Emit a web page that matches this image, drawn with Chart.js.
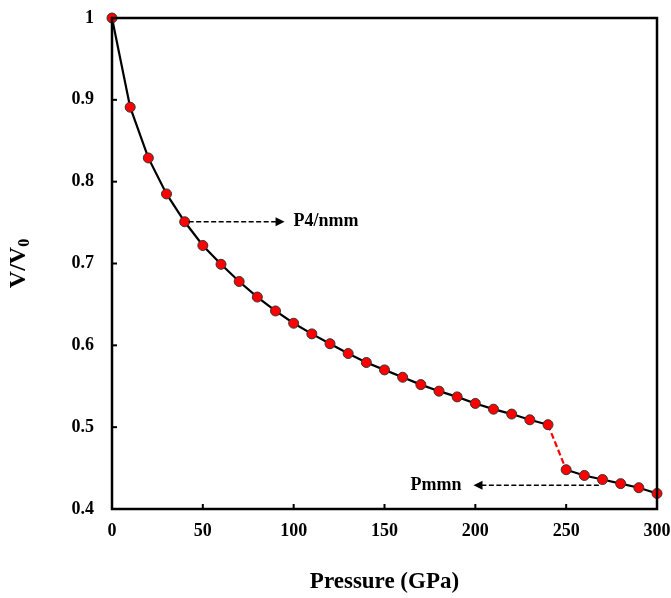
<!DOCTYPE html>
<html>
<head>
<meta charset="utf-8">
<script src="https://cdn.jsdelivr.net/npm/chart.js@4/dist/chart.umd.min.js"></script>
<style>
html,body{margin:0;padding:0;background:#fff;}
#wrap{width:671px;height:598px;position:relative;}
</style>
</head>
<body>
<div id="wrap"><canvas id="c" width="671" height="598"></canvas></div>
<script>
const pressure = [0,10,20,30,40,50,60,70,80,90,100,110,120,130,140,150,160,170,180,190,200,210,220,230,240,250,260,270,280,290,300];
const volumeRatio = [1.000,0.891,0.829,0.785,0.751,0.722,0.699,0.678,0.659,0.642,0.627,0.614,0.602,0.590,0.579,0.570,0.561,0.552,0.544,0.537,0.529,0.522,0.516,0.509,0.503,0.448,0.441,0.436,0.431,0.426,0.419];
const xTickLabels = ['0','50','100','150','200','250','300'];
const yTickLabels = ['0.4','0.5','0.6','0.7','0.8','0.9','1'];
const transitionStart = 240;
const phaseLabels = ['P4/nmm','Pmmn'];
const xTitle = 'Pressure (GPa)';

const FONT = '"Liberation Serif","Times New Roman",serif';

const framePlugin = {
  id: 'frame',
  afterDraw(chart) {
    const {ctx, chartArea: a, scales: {x, y}} = chart;
    ctx.save();
    ctx.strokeStyle = '#000';
    ctx.lineWidth = 2.5;
    ctx.strokeRect(a.left, a.top, a.right - a.left, a.bottom - a.top);
    ctx.lineWidth = 2;
    x.ticks.forEach(t => {
      const px = x.getPixelForValue(t.value);
      ctx.beginPath(); ctx.moveTo(px, a.bottom); ctx.lineTo(px, a.bottom - 5); ctx.stroke();
    });
    y.ticks.forEach(t => {
      const py = y.getPixelForValue(t.value);
      ctx.beginPath(); ctx.moveTo(a.left, py); ctx.lineTo(a.left + 5, py); ctx.stroke();
    });
    ctx.fillStyle = '#000';
    ctx.font = 'bold 23px ' + FONT;
    ctx.textAlign = 'center'; ctx.textBaseline = 'middle';
    ctx.fillText(xTitle, (a.left + a.right) / 2, 582);
    ctx.save();
    ctx.translate(19, (a.top + a.bottom) / 2);
    ctx.rotate(-Math.PI / 2);
    ctx.font = 'bold 24px ' + FONT;
    const main = 'V/V';
    const wMain = ctx.measureText(main).width;
    ctx.font = 'bold 16px ' + FONT;
    const wSub = ctx.measureText('0').width;
    const total = wMain + wSub;
    ctx.textAlign = 'left';
    ctx.font = 'bold 24px ' + FONT;
    ctx.fillText(main, -total / 2, 0);
    ctx.font = 'bold 16px ' + FONT;
    ctx.fillText('0', -total / 2 + wMain, 6);
    ctx.restore();
    // annotations
    ctx.setLineDash([5, 2.5]);
    ctx.lineWidth = 1.4;
    const ay1 = y.getPixelForValue(volumeRatio[4]);
    const ax1s = x.getPixelForValue(pressure[4]) + 4;
    const ax1e = x.getPixelForValue(95);
    ctx.beginPath(); ctx.moveTo(ax1s, ay1); ctx.lineTo(ax1e - 6, ay1); ctx.stroke();
    ctx.setLineDash([]);
    ctx.beginPath(); ctx.moveTo(ax1e, ay1); ctx.lineTo(ax1e - 9, ay1 - 4.5); ctx.lineTo(ax1e - 9, ay1 + 4.5); ctx.closePath(); ctx.fill();
    ctx.font = 'bold 18px ' + FONT;
    ctx.textAlign = 'left'; ctx.textBaseline = 'middle';
    ctx.fillText(phaseLabels[0], ax1e + 9, ay1);
    ctx.setLineDash([5, 2.5]);
    const ay2 = y.getPixelForValue(0.429);
    const ax2s = x.getPixelForValue(268);
    const ax2e = x.getPixelForValue(199);
    ctx.beginPath(); ctx.moveTo(ax2s, ay2); ctx.lineTo(ax2e + 6, ay2); ctx.stroke();
    ctx.setLineDash([]);
    ctx.beginPath(); ctx.moveTo(ax2e, ay2); ctx.lineTo(ax2e + 9, ay2 - 4.5); ctx.lineTo(ax2e + 9, ay2 + 4.5); ctx.closePath(); ctx.fill();
    ctx.textAlign = 'right';
    ctx.fillText(phaseLabels[1], ax2e - 12, ay2);
    ctx.restore();
  }
};

function noPad(s) { s.paddingTop = 0; s.paddingBottom = 0; s.paddingLeft = 0; s.paddingRight = 0; }

new Chart(document.getElementById('c'), {
  type: 'line',
  data: {
    datasets: [{
      data: pressure.map((p, i) => ({x: p, y: volumeRatio[i]})),
      borderColor: '#000',
      borderWidth: 2.2,
      pointBackgroundColor: '#ff0000',
      pointBorderColor: '#333',
      pointBorderWidth: 1,
      pointRadius: 5,
      tension: 0,
      clip: false,
      segment: {
        borderColor: ctx => ctx.p0.parsed.x === transitionStart ? '#ff0000' : '#000',
        borderDash: ctx => ctx.p0.parsed.x === transitionStart ? [6, 3] : undefined
      }
    }]
  },
  options: {
    responsive: false,
    animation: false,
    layout: {padding: {left: 0, right: 14, top: 18, bottom: 0}},
    plugins: {legend: {display: false}, tooltip: {enabled: false}},
    scales: {
      x: {
        type: 'linear', min: 0, max: 300,
        afterFit(s) { s.height = 89; noPad(s); },
        grid: {display: false, drawTicks: false},
        border: {display: false},
        ticks: {
          stepSize: 50, padding: 12, color: '#000',
          font: {family: FONT, size: 18, weight: 'bold'},
          callback: (v) => xTickLabels[Math.round(v / 50)]
        }
      },
      y: {
        type: 'linear', min: 0.4, max: 1,
        afterFit(s) { s.width = 112; noPad(s); },
        grid: {display: false, drawTicks: false},
        border: {display: false},
        ticks: {
          stepSize: 0.1, padding: 18, color: '#000',
          font: {family: FONT, size: 18, weight: 'bold'},
          callback: (v) => yTickLabels[Math.round((v - 0.4) * 10)]
        }
      }
    }
  },
  plugins: [framePlugin]
});
</script>
</body>
</html>
